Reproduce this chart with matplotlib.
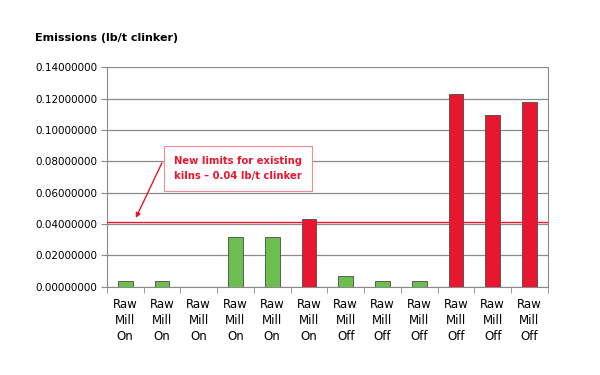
import matplotlib
matplotlib.use("Agg")
from matplotlib import pyplot as plt
import numpy as np

# bar data
categories = ["Raw\nMill\nOn"] * 6 + ["Raw\nMill\nOff"] * 6
emissions = [0.0038, 0.0038, 0.0, 0.0318, 0.0318, 0.0433,
             0.0068, 0.0035, 0.0035, 0.1228, 0.1095, 0.1178]
above_limit = [False, False, False, False, False, True,
               False, False, False, True, True, True]
limit_value = 0.0415
yticks = [0.0, 0.02, 0.04, 0.06, 0.08, 0.10, 0.12, 0.14]

green = "#6cbf4f"
red = "#e8172f"

fig = plt.figure(figsize=(6, 3.75), dpi=100)
ax = fig.add_axes([0.178, 0.235, 0.735, 0.586])

x = np.arange(len(emissions))
colors = [red if a else green for a in above_limit]
ax.bar(x, emissions, width=0.4, color=colors, edgecolor="#4a4a4a", linewidth=0.6, zorder=3)

ax.set_xlim(-0.5, len(emissions) - 0.5)
ax.set_ylim(0, 0.14)
ax.set_yticks(yticks)
ax.set_yticklabels([f"{v:.8f}" for v in yticks], fontsize=7.5)
ax.yaxis.grid(True, color="#8a8a8a", linewidth=0.9, zorder=0)
ax.tick_params(axis="y", length=4, color="#8a8a8a", pad=3)

# category labels centered, ticks between categories
ax.set_xticks(x)
ax.set_xticklabels(categories, fontsize=8.5, linespacing=1.3)
ax.tick_params(axis="x", which="major", length=0, pad=8)
ax.set_xticks(np.arange(-0.5, len(emissions), 1), minor=True)
ax.tick_params(axis="x", which="minor", length=4, color="#8a8a8a")

for side in ["left", "right", "bottom"]:
    ax.spines[side].set_color("#8a8a8a")
ax.spines["top"].set_visible(False)

ax.axhline(limit_value, color=red, linewidth=1.0, zorder=4)

ax.text(3.08, 0.0754, "New limits for existing\nkilns \u2013 0.04 lb/t clinker",
        fontsize=7.2, fontweight="bold", color=red, va="center", ha="center",
        multialignment="left", linespacing=1.6,
        bbox=dict(boxstyle="square,pad=1.0", fc="white", ec="#f08a94", lw=0.8),
        zorder=5)
ax.annotate("", xy=(0.29, 0.0439), xytext=(1.0, 0.079),
            arrowprops=dict(arrowstyle="-|>", color=red, lw=1.0, mutation_scale=7,
                            shrinkA=0, shrinkB=0),
            zorder=5)

fig.text(35 / 600, 1 - 38 / 375, "Emissions (lb/t clinker)", fontsize=8,
         fontweight="bold", va="center", ha="left")

plt.savefig("out.png", dpi=100)
